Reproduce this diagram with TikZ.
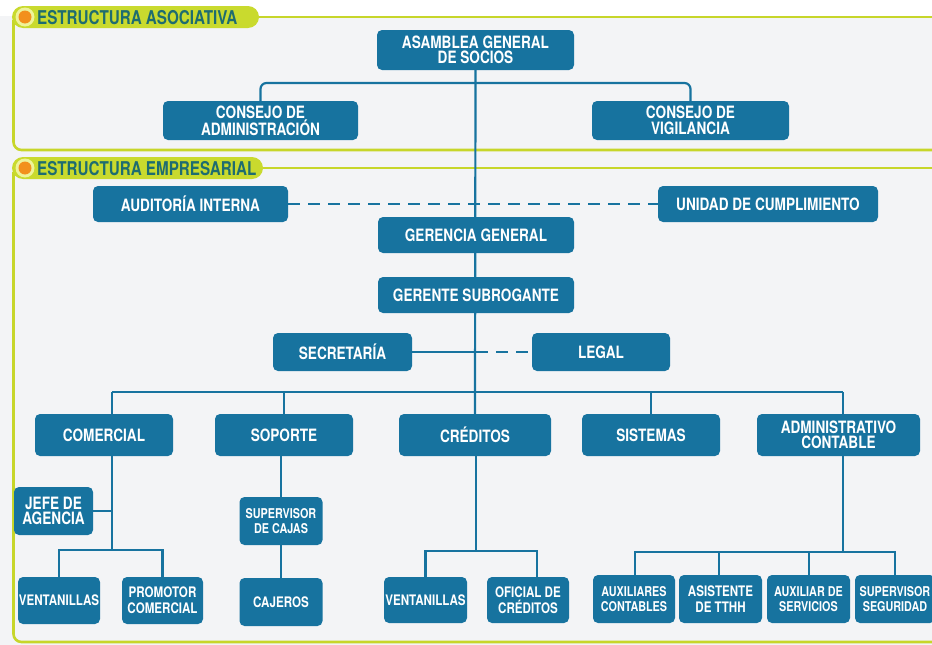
\documentclass[tikz,border=0pt]{standalone}
\usepackage{fontspec}
\setmainfont{TeX Gyre Heros}[FakeStretch=0.8]
\usetikzlibrary{calc}
\definecolor{boxblue}{HTML}{17739F}
\definecolor{framegreen}{HTML}{C7D62A}
\definecolor{tabgreen}{HTML}{C9DA2E}
\definecolor{tabtext}{HTML}{1E6C70}
\definecolor{dotorange}{HTML}{F2901C}
\definecolor{dotring}{HTML}{EEF39A}
\definecolor{paper}{HTML}{F3F4F6}
\pgfdeclarelayer{back}
\pgfdeclarelayer{links}
\pgfsetlayers{back,links,main}
\tikzset{
  orgbox/.style={rectangle, rounded corners=5pt, fill=boxblue, text=white,
    align=center, inner sep=0pt,
    font=\bfseries\fontsize{17}{15.5}\selectfont},
  smallbox/.style={orgbox, font=\bfseries\fontsize{14.5}{16}\selectfont},
  tinybox/.style={orgbox, font=\bfseries\fontsize{13.5}{15.5}\selectfont},
  link/.style={draw=boxblue, line width=2.2pt},
  dashlink/.style={link, dash pattern=on 12pt off 8pt},
  frameline/.style={draw=framegreen, line width=2.6pt},
  tablabel/.style={text=tabtext, anchor=west, inner sep=0pt,
    font=\bfseries\fontsize{19}{19}\selectfont}
}
\begin{document}
\begin{tikzpicture}[x=1pt, y=-1pt]
\useasboundingbox (0,0) rectangle (932,645);

% ---- associative structure ----
\node[orgbox, minimum width=197, minimum height=40] (asam) at (475.5,50) {ASAMBLEA GENERAL\\DE SOCIOS};
\node[orgbox, minimum width=195, minimum height=39] (cadm) at (260.5,120.5) {CONSEJO DE\\ADMINISTRACIÓN};
\node[orgbox, minimum width=197, minimum height=39] (cvig) at (690.5,120.5) {CONSEJO DE\\VIGILANCIA};

% ---- business structure ----
\node[orgbox, minimum width=195, minimum height=36] (audit) at (190.5,204) {AUDITORÍA INTERNA};
\node[orgbox, minimum width=220, minimum height=36] (unid) at (768,204) {UNIDAD DE CUMPLIMIENTO};
\node[orgbox, minimum width=196, minimum height=36] (ger) at (476,235) {GERENCIA GENERAL};
\node[orgbox, minimum width=196, minimum height=36] (subg) at (476,295) {GERENTE SUBROGANTE};
\node[orgbox, minimum width=139, minimum height=38] (sec) at (342.5,352) {SECRETARÍA};
\node[orgbox, minimum width=138, minimum height=38] (legal) at (601,352) {LEGAL};

% departments
\node[orgbox, minimum width=138, minimum height=42] (com) at (104,435) {COMERCIAL};
\node[orgbox, minimum width=138, minimum height=42] (sop) at (284,435) {SOPORTE};
\node[orgbox, minimum width=152, minimum height=42] (cred) at (475,435) {CRÉDITOS};
\node[orgbox, minimum width=138, minimum height=42] (sis) at (651,435) {SISTEMAS};
\node[orgbox, minimum width=163, minimum height=42] (adm) at (838.5,435) {ADMINISTRATIVO\\CONTABLE};

% commercial
\node[orgbox, minimum width=79, minimum height=48] (jefe) at (53.5,511) {JEFE DE\\AGENCIA};
\node[smallbox, minimum width=82, minimum height=47] (vent) at (59,600.5) {VENTANILLAS};
\node[smallbox, minimum width=81, minimum height=47] (prom) at (162.5,600.5) {PROMOTOR\\COMERCIAL};

% support
\node[tinybox, minimum width=83, minimum height=48] (supc) at (281,521) {SUPERVISOR\\DE CAJAS};
\node[smallbox, minimum width=83, minimum height=48] (caj) at (281,602) {CAJEROS};

% credits
\node[smallbox, minimum width=83, minimum height=46] (ventc) at (425.5,600) {VENTANILLAS};
\node[smallbox, minimum width=82, minimum height=46] (ofic) at (528,600) {OFICIAL DE\\CRÉDITOS};

% administration
\node[tinybox, minimum width=82, minimum height=48] (auxc) at (634,599) {AUXILIARES\\CONTABLES};
\node[smallbox, minimum width=83, minimum height=48] (asis) at (720.5,599) {ASISTENTE\\DE TTHH};
\node[tinybox, minimum width=83, minimum height=48] (auxs) at (808.5,599) {AUXILIAR DE\\SERVICIOS};
\node[tinybox, minimum width=80, minimum height=48] (supseg) at (895,599) {SUPERVISOR\\SEGURIDAD};

% bus levels and off-centre drop points
\coordinate (top) at (476,83);
\coordinate (bus) at (476,392);
\coordinate (comx) at (112,0);
\coordinate (admx) at (843,0);
\coordinate (combus) at (0,550);
\coordinate (credbus) at (0,551);
\coordinate (admbus) at (0,552);
\coordinate (oficx) at (537,0);
\coordinate (auxcx) at (635,0);
\coordinate (asisx) at (719,0);
\coordinate (auxsx) at (809,0);
\coordinate (supsegx) at (895,0);
\coordinate (trunksec) at (476,352);

\begin{pgfonlayer}{links}
  % councils
  \draw[link, rounded corners=6pt] (cadm.north) -- (cadm.north |- top) -- (cvig.north |- top) -- (cvig.north);
  % main trunk
  \draw[link] (asam.south) -- (cred.north);
  % staff units
  \draw[dashlink] (audit.east) -- (unid.west);
  \draw[link] (sec.east) -- (trunksec);
  \draw[dashlink] (trunksec) -- (legal.west);
  % department bus
  \draw[link] (comx |- bus) -- (admx |- bus);
  \draw[link] (comx |- bus) -- (comx |- com.north);
  \draw[link] (sop.north) -- (sop.north |- bus);
  \draw[link] (sis.north) -- (sis.north |- bus);
  \draw[link] (admx |- bus) -- (admx |- adm.north);
  % commercial
  \draw[link] (comx |- com.south) -- (comx |- combus);
  \draw[link] (jefe.east) -- (jefe.east -| comx);
  \draw[link] (vent.north) -- (vent.north |- combus) -- (prom.north |- combus) -- (prom.north);
  % support
  \draw[link] (sop.south -| supc.north) -- (supc.north);
  \draw[link] (supc.south) -- (caj.north);
  % credits
  \draw[link] (cred.south -| bus) -- (bus |- credbus);
  \draw[link] (ventc.north) -- (ventc.north |- credbus) -- (oficx |- credbus) -- (oficx |- ofic.north);
  % administration
  \draw[link] (admx |- adm.south) -- (admx |- admbus);
  \draw[link] (auxcx |- auxc.north) -- (auxcx |- admbus) -- (supsegx |- admbus) -- (supsegx |- supseg.north);
  \draw[link] (asisx |- admbus) -- (asisx |- asis.north);
  \draw[link] (auxsx |- admbus) -- (auxsx |- auxs.north);
\end{pgfonlayer}

\begin{pgfonlayer}{back}
  \fill[paper] (0,0) rectangle (932,645);
  \fill[white] (0,0) rectangle (932,16);
  % frame of the associative structure
  \draw[frameline] (250,17) -- (940,17);
  \draw[frameline, rounded corners=8pt] (13.5,20) -- (13.5,150) -- (940,150);
  % frame of the business structure
  \draw[frameline] (250,168) -- (940,168);
  \draw[frameline, rounded corners=8pt] (13.5,172) -- (13.5,642) -- (940,642);
\end{pgfonlayer}

% section tabs
\fill[tabgreen, rounded corners=11pt] (12,6) rectangle (259,28);
\fill[dotring] (25,17) circle (9.5);
\fill[dotorange] (25,17) circle (6.5);
\node[tablabel] (tabA) at (37,17.5) {ESTRUCTURA ASOCIATIVA};

\fill[tabgreen, rounded corners=11pt] (12,157) rectangle (263,179);
\fill[dotring] (25,168) circle (9.5);
\fill[dotorange] (25,168) circle (6.5);
\node[tablabel] (tabB) at (37,168.5) {ESTRUCTURA EMPRESARIAL};
\end{tikzpicture}
\end{document}
